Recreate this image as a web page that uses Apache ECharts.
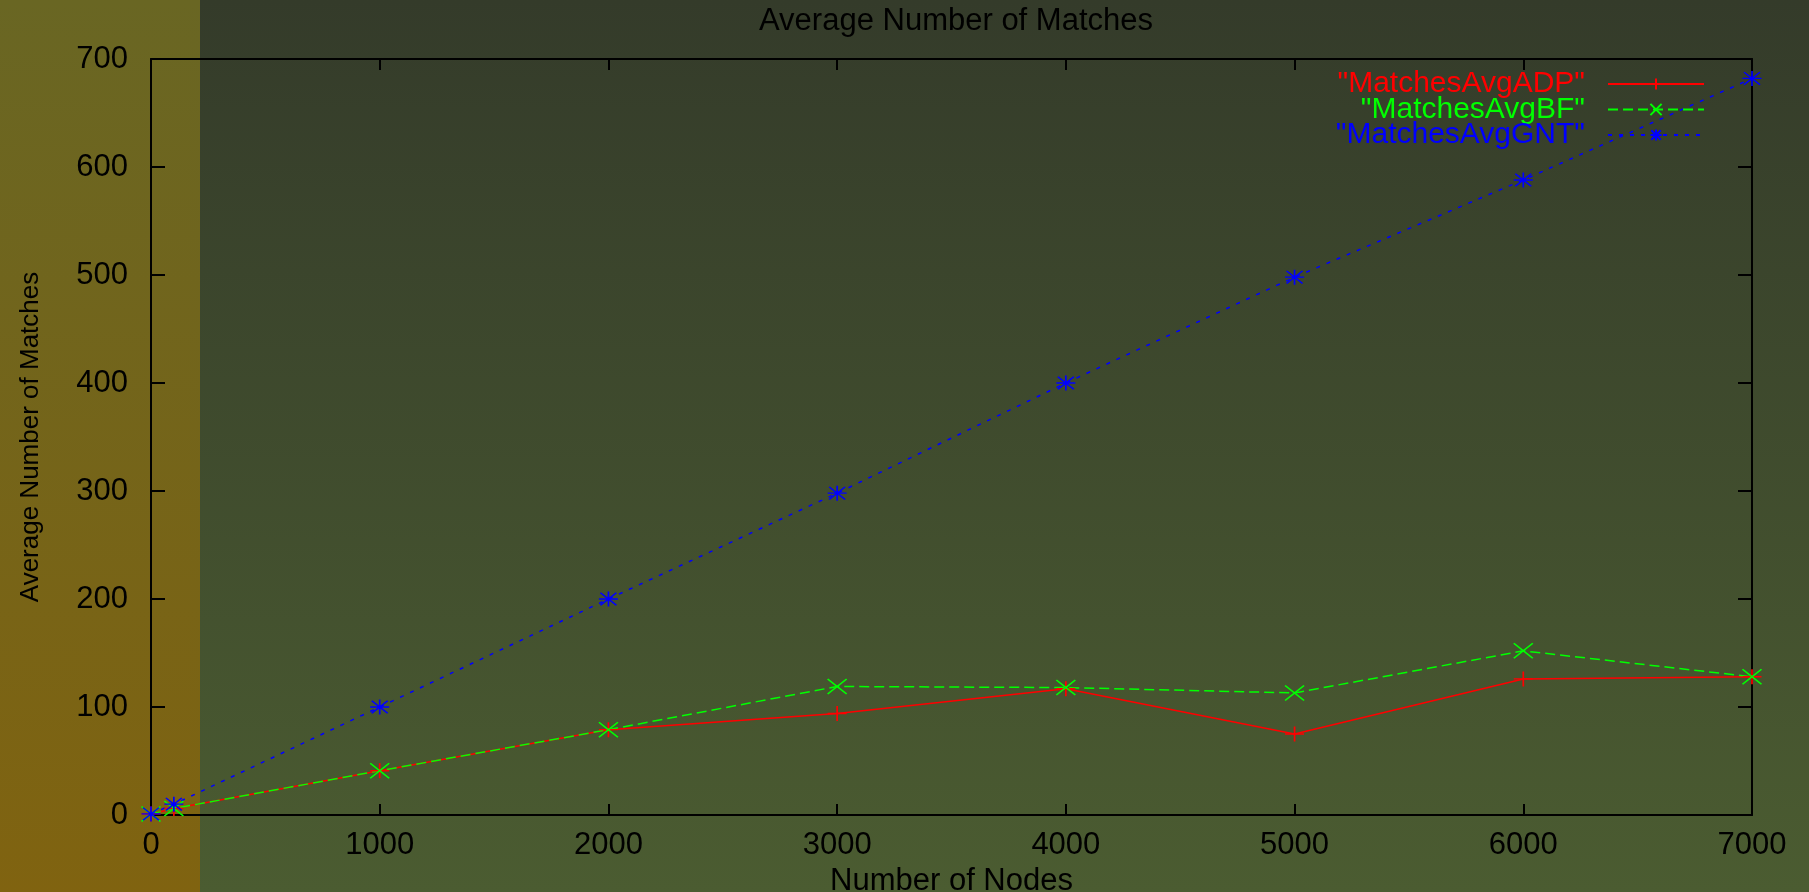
<!DOCTYPE html>
<html>
<head>
<meta charset="utf-8">
<script src="https://cdn.jsdelivr.net/npm/echarts@6/dist/echarts.min.js"></script>
<style>
  html, body { margin: 0; padding: 0; }
  #chart { width: 1809px; height: 892px; }
</style>
</head>
<body>
<div id="chart"></div>
<script>
// ---- data ----
const nodes = [0, 100, 1000, 2000, 3000, 4000, 5000, 6000, 7000];
const matchesAvgADP = [1, 6, 41, 79, 94, 117, 75, 126, 128];
const matchesAvgBF  = [1, 6, 41, 79, 119, 118, 113, 152, 128];
const matchesAvgGNT = [1, 10, 100, 200, 298, 400, 498, 588, 682];
const seriesNames = ['"MatchesAvgADP"', '"MatchesAvgBF"', '"MatchesAvgGNT"'];
const titleText = 'Average Number of Matches';
const xAxisTitle = 'Number of Nodes';
const yAxisTitle = 'Average Number of Matches';

const FONT = 'Liberation Sans';
const plusPath = 'path://M5,0L5,10M0,5L10,5';
const crossPath = 'path://M0,0L10,10M10,0L0,10';
const starPath = 'path://M5,0L5,10M0,5L10,5M0.8,0.8L9.2,9.2M9.2,0.8L0.8,9.2';

function pairs(ys) { return nodes.map((x, i) => [x, ys[i]]); }

function mkSeries(name, ys, color, dash, symbol) {
  return {
    name: name,
    type: 'line',
    data: pairs(ys),
    symbol: symbol,
    symbolSize: [19, 15],
    showSymbol: true,
    animation: false,
    lineStyle: { color: color, width: 1.5, type: dash },
    itemStyle: { color: 'rgba(0,0,0,0)', borderColor: color, borderWidth: 1.5 },
    emphasis: { disabled: true }
  };
}

const chart = echarts.init(document.getElementById('chart'), null, { renderer: 'canvas' });
const option = {
  animation: false,
  graphic: {
    z: -100,
    elements: [
      { type: 'rect', z: -100, silent: true, shape: { x: 0, y: 0, width: 200, height: 892 },
        style: { fill: new echarts.graphic.LinearGradient(0, 0, 0, 1, [
          { offset: 0, color: '#696623' }, { offset: 1, color: '#806310' }]) } },
      { type: 'rect', z: -100, silent: true, shape: { x: 200, y: 0, width: 1609, height: 892 },
        style: { fill: new echarts.graphic.LinearGradient(0, 0, 0, 1, [
          { offset: 0, color: '#343b2a' }, { offset: 1, color: '#4b5c31' }]) } }
    ]
  },
  title: {
    text: titleText,
    left: 951, top: 1,
    textAlign: 'center',
    textStyle: { fontFamily: FONT, fontSize: 31, fontWeight: 'normal', color: '#000' }
  },
  legend: {
    orient: 'vertical',
    align: 'right',
    right: 99, top: 64,
    itemWidth: 96, itemHeight: 14, itemGap: -4.5,
    textStyle: { fontFamily: FONT, fontSize: 30, padding: [0, 18, 0, 0] },
    data: [
      { name: seriesNames[0], textStyle: { color: '#ff0000' } },
      { name: seriesNames[1], textStyle: { color: '#00ff00' } },
      { name: seriesNames[2], textStyle: { color: '#0000ff' } }
    ]
  },
  grid: { left: 151, right: 57, top: 59, bottom: 77, containLabel: false, outerBoundsMode: 'none' },
  xAxis: [{
    type: 'value', min: 0, max: 7000, interval: 1000,
    name: xAxisTitle, nameLocation: 'middle', nameGap: 46,
    nameTextStyle: { fontFamily: FONT, fontSize: 31, color: '#000' },
    axisLine: { show: true, onZero: false, lineStyle: { color: '#000', width: 2 } },
    axisTick: { show: true, inside: true, length: 11, lineStyle: { color: '#000', width: 2 } },
    axisLabel: { fontFamily: FONT, fontSize: 31, color: '#000', margin: 15, formatter: v => String(v) },
    splitLine: { show: false }
  }, {
    type: 'value', min: 0, max: 7000, interval: 1000, position: 'top',
    axisLine: { show: true, onZero: false, lineStyle: { color: '#000', width: 2 } },
    axisTick: { show: true, inside: true, length: 11, lineStyle: { color: '#000', width: 2 } },
    axisLabel: { show: false },
    splitLine: { show: false }
  }],
  yAxis: [{
    type: 'value', min: 0, max: 700, interval: 100,
    name: yAxisTitle, nameLocation: 'middle', nameGap: 107, nameRotate: 90,
    nameTextStyle: { fontFamily: FONT, fontSize: 26, color: '#000' },
    axisLine: { show: true, onZero: false, lineStyle: { color: '#000', width: 2 } },
    axisTick: { show: true, inside: true, length: 14, lineStyle: { color: '#000', width: 2 } },
    axisLabel: { fontFamily: FONT, fontSize: 31, color: '#000', margin: 23, formatter: v => String(v) },
    splitLine: { show: false }
  }, {
    type: 'value', min: 0, max: 700, interval: 100, position: 'right',
    axisLine: { show: true, onZero: false, lineStyle: { color: '#000', width: 2 } },
    axisTick: { show: true, inside: true, length: 14, lineStyle: { color: '#000', width: 2 } },
    axisLabel: { show: false },
    splitLine: { show: false }
  }],
  series: [
    mkSeries(seriesNames[0], matchesAvgADP, '#ff0000', 'solid', plusPath),
    mkSeries(seriesNames[1], matchesAvgBF, '#00ff00', [10, 5], crossPath),
    mkSeries(seriesNames[2], matchesAvgGNT, '#0000ff', [4, 7], starPath)
  ]
};
chart.setOption(option);
</script>
</body>
</html>
